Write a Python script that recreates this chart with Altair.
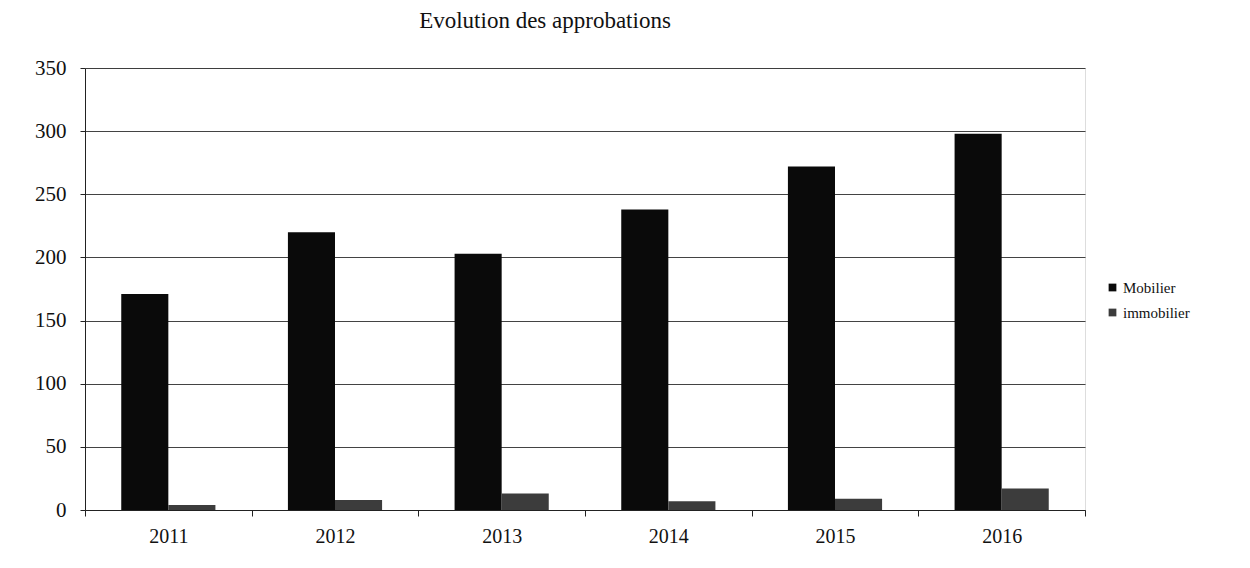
import altair as alt
import pandas as pd

years = ["2011", "2012", "2013", "2014", "2015", "2016"]
mobilier = [171, 220, 203, 238, 272, 298]
immobilier = [4, 8, 13, 7, 9, 17]
series = ["Mobilier", "immobilier"]
colors = ["#0a0a0a", "#3c3c3c"]

rows = []
for i, y in enumerate(years):
    rows.append({"Année": y, "Série": series[0], "Valeur": mobilier[i]})
    rows.append({"Année": y, "Série": series[1], "Valeur": immobilier[i]})
df = pd.DataFrame(rows)

FONT = "Liberation Serif"

chart = alt.Chart(df).mark_bar().encode(
    x=alt.X("Année:N", sort=years, title=None,
            scale=alt.Scale(paddingInner=0, paddingOuter=0),
            axis=alt.Axis(labelAngle=0, labelFont=FONT, labelFontSize=20,
                          labelColor="#111", domainColor="#222", tickColor="#222",
                          tickBand="extent", tickSize=6, labelPadding=10)),
    xOffset=alt.XOffset("Série:N", sort=series,
                        scale=alt.Scale(paddingInner=0, paddingOuter=0.77)),
    y=alt.Y("Valeur:Q", title=None,
            scale=alt.Scale(domain=[0, 350]),
            axis=alt.Axis(values=[0, 50, 100, 150, 200, 250, 300, 350],
                          labelFont=FONT, labelFontSize=21, labelColor="#111",
                          domainColor="#222", tickColor="#222", tickSize=5,
                          labelPadding=14, gridColor="#222", gridOpacity=0.85,
                          gridWidth=1.2)),
    color=alt.Color("Série:N", sort=series,
                    scale=alt.Scale(domain=series, range=colors),
                    legend=alt.Legend(title=None, orient="none", legendX=1020,
                                      legendY=212, symbolType="square",
                                      symbolSize=60, labelFont=FONT,
                                      labelFontSize=15, labelColor="#111",
                                      rowPadding=9, labelOffset=3)),
).properties(
    width=1000,
    height=442,
    title=alt.Title("Evolution des approbations", font=FONT, fontSize=23,
                    fontWeight="normal", color="#111", anchor="middle",
                    dx=-40, offset=24),
    autosize=alt.AutoSizeParams(type="none"),
    padding={"left": 77, "top": 60, "right": 155, "bottom": 50},
).configure_view(stroke=None).configure(background="white")

chart.save("out.html", embed_options={"renderer": "svg", "actions": False})
